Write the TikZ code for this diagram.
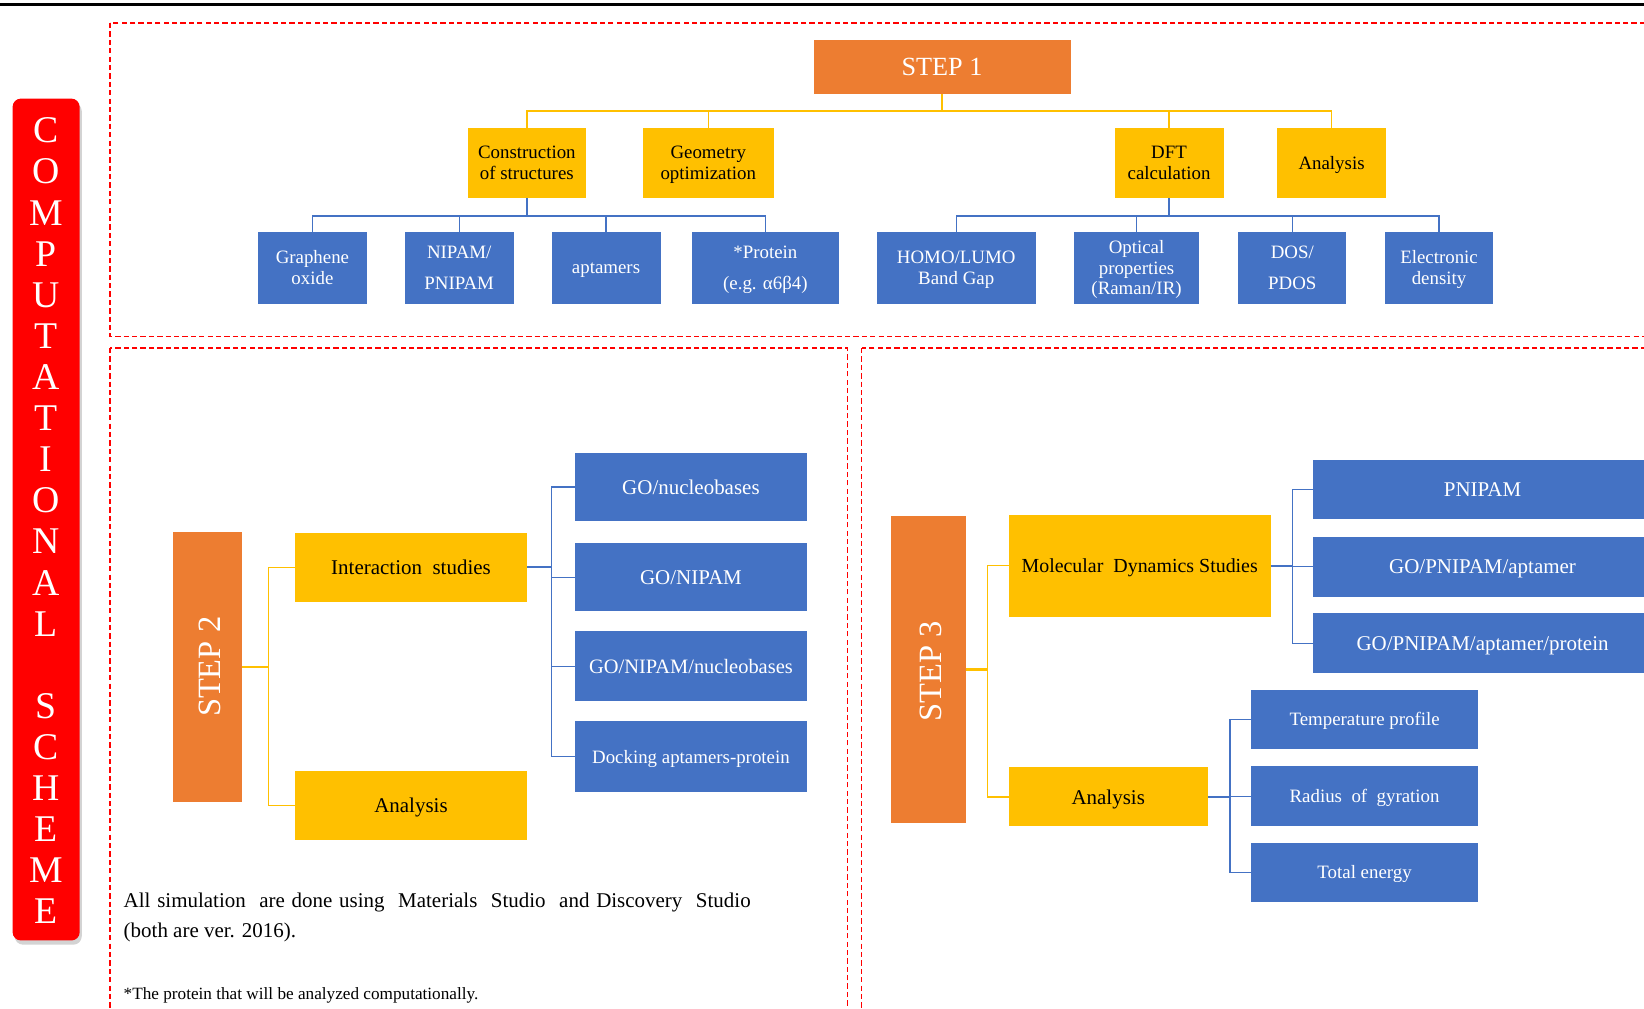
\documentclass[tikz,border=0pt]{standalone}
\usepackage{fontspec}
\setmainfont{Liberation Serif}
\usetikzlibrary{shadows,calc}
\definecolor{orng}{HTML}{ED7D31}
\definecolor{yell}{HTML}{FFC000}
\definecolor{blu}{HTML}{4472C4}
\newcommand\fs[2]{\fontsize{#1}{#2}\selectfont}
\begin{document}
\begin{tikzpicture}[x=1pt,y=-1pt,
  every node/.style={inner sep=0pt, outer sep=0pt, align=center},
  obox/.style={fill=orng, text=white},
  ybox/.style={fill=yell, text=black, text depth=0pt},
  bbox/.style={fill=blu, text=white, text depth=0pt},
  yline/.style={draw=yell, line width=1.3pt},
  bline/.style={draw=blu, line width=1.3pt},
  stem/.style={line width=2.2pt},
  frame/.style={draw=red, line width=1.2pt, dash pattern=on 5pt off 3pt},
  box/.style 2 args={minimum width=#1, minimum height=#2}]
\useasboundingbox (0,0) rectangle (1568,962);
\clip (0,0) rectangle (1568,962);

% rule across the top
\draw[line width=2.5pt] (0,4) -- (1568,4);

% dashed frames of the three steps
\draw[frame] (105,22) rectangle (1590,321);
\draw[frame] (105,332) rectangle (808,990);
\draw[frame] (822,332) rectangle (1590,990);

% vertical title bar
\node[fill=red, rounded corners=8pt, box={64}{803}, text=white,
      drop shadow={shadow xshift=2pt, shadow yshift=-4pt, opacity=0.35}]
  (bar) at (44,495.5) {};
\foreach \ch [count=\i from 0] in {C,O,M,P,U,T,A,T,I,O,N,A,L,{},S,C,H,E,M,E}
  \node[text=white, font=\fs{36}{36}] (bar\i) at (44,124.5+39.2*\i) {\ch};

% ---------------- STEP 1 ----------------
\node[obox, box={245}{52}, font=\fs{25}{28}] (s1) at (898.5,64) {STEP 1};

\node[ybox, box={113}{67}, font=\fs{18}{20}] (cons) at (502.5,155.5) {Construction\\of structures};
\node[ybox, box={125}{67}, font=\fs{18}{20}] (geo) at (675.5,155.5) {Geometry\\optimization};
\node[ybox, box={104}{67}, font=\fs{18}{20}] (dft) at (1115,155.5) {DFT\\calculation};
\node[ybox, box={104}{67}, font=\fs{18}{20}] (ana1) at (1270,155.5) {Analysis};

\node[bbox, box={104}{69}, font=\fs{18}{20}] (go) at (298,255.5) {Graphene\\oxide};
\node[bbox, box={104}{69}, font=\fs{18}{29}] (nip) at (438,255.5) {NIPAM/\\PNIPAM};
\node[bbox, box={104}{69}, font=\fs{18}{20}] (apt) at (578,255.5) {aptamers};
\node[bbox, box={140}{69}, font=\fs{18}{29}] (prot) at (730,255.5) {*Protein\\(e.g. α6β4)};
\node[bbox, box={152}{69}, font=\fs{18}{20}] (homo) at (912,255.5) {HOMO/LUMO\\Band Gap};
\node[bbox, box={120}{69}, font=\fs{18}{19.5}] (opt) at (1084,255.5) {Optical\\properties\\(Raman/IR)};
\node[bbox, box={103}{69}, font=\fs{18}{29}] (dos) at (1232.5,255.5) {DOS/\\PDOS};
\node[bbox, box={103}{69}, font=\fs{18}{20}] (ele) at (1372.5,255.5) {Electronic\\density};

% yellow tree below STEP 1
\coordinate (j1) at ($(s1.south)+(0,16)$);
\draw[yline, stem] (s1.south) -- (j1);
\draw[yline] (cons.north) -- (cons.north |- j1) -- (ana1.north |- j1) -- (ana1.north);
\draw[yline] (geo.north) -- (geo.north |- j1);
\draw[yline] (dft.north) -- (dft.north |- j1);

% blue tree below Construction of structures
\coordinate (j2) at ($(cons.south)+(0,17)$);
\draw[bline, stem] (cons.south) -- (j2);
\draw[bline] (go.north) -- (go.north |- j2) -- (prot.north |- j2) -- (prot.north);
\draw[bline] (nip.north) -- (nip.north |- j2);
\draw[bline] (apt.north) -- (apt.north |- j2);

% blue tree below DFT calculation
\coordinate (j3) at ($(dft.south)+(0,17)$);
\draw[bline, stem] (dft.south) -- (j3);
\draw[bline] (homo.north) -- (homo.north |- j3) -- (ele.north |- j3) -- (ele.north);
\draw[bline] (opt.north) -- (opt.north |- j3);
\draw[bline] (dos.north) -- (dos.north |- j3);

% ---------------- STEP 2 ----------------
\node[obox, box={66}{258}] (s2) at (198,636) {};
\node[text=white, rotate=90, font=\fs{31}{31}] (s2t) at (200,636) {STEP 2};

\node[ybox, box={222}{66}, font=\fs{20}{22}] (int) at (392,541) {Interaction\ \ studies};
\node[ybox, box={222}{66}, font=\fs{20}{22}] (an2) at (392,768) {Analysis};

\node[bbox, box={222}{65}, font=\fs{20}{22}] (gon) at (659,464.5) {GO/nucleobases};
\node[bbox, box={222}{65}, font=\fs{20}{22}] (gonip) at (659,550.5) {GO/NIPAM};
\node[bbox, box={222}{67}, font=\fs{19.5}{22}] (gonn) at (659,635.5) {GO/NIPAM/nucleobases};
\node[bbox, box={222}{67}, font=\fs{18}{22}] (dock) at (659,721.5) {Docking aptamers-protein};

\coordinate (k2) at ($(s2.east)+(25,0)$);
\draw[yline, stem] (s2.east) -- (k2);
\draw[yline] (int.west) -| (k2);
\draw[yline] (an2.west) -| (k2);

\coordinate (m2) at ($(int.east)+(23,0)$);
\draw[bline, stem] (int.east) -- (m2);
\draw[bline] (gon.west) -| (m2);
\draw[bline] (dock.west) -| (m2);
\draw[bline] (gonip.west) -- (gonip.west -| m2);
\draw[bline] (gonn.west) -- (gonn.west -| m2);

\node[anchor=north west, text width=598pt, align=justify, font=\fs{20}{28}] (note)
  at (118,852) {All simulation\ \ are done using\ \ Materials\ \ Studio\ \ and Discovery\ \ Studio (both are ver. 2016).};
\node[anchor=base west, font=\fs{16.4}{18}] (foot) at (118,953) {*The protein that will be analyzed computationally.};

% ---------------- STEP 3 ----------------
\node[obox, box={71}{293}] (s3) at (885.5,638.5) {};
\node[text=white, rotate=90, font=\fs{31}{31}] (s3t) at (887.5,640.5) {STEP 3};

\node[ybox, box={250}{97}, font=\fs{19}{22}] (md) at (1087,539.5) {Molecular\ \ Dynamics Studies};
\node[ybox, box={190}{56}, font=\fs{20}{22}] (an3) at (1057,760) {Analysis};

\node[bbox, box={324}{56}, font=\fs{20}{22}] (pn) at (1414,467) {PNIPAM};
\node[bbox, box={324}{57}, font=\fs{20}{22}] (gpa) at (1414,540.5) {GO/PNIPAM/aptamer};
\node[bbox, box={324}{57}, font=\fs{20}{22}] (gpap) at (1414,613.5) {GO/PNIPAM/aptamer/protein};

\node[bbox, box={217}{56}, font=\fs{18}{22}] (temp) at (1301.5,686) {Temperature profile};
\node[bbox, box={217}{57}, font=\fs{18}{22}] (rad) at (1301.5,759.5) {Radius\ \ of\ \ gyration};
\node[bbox, box={217}{56}, font=\fs{18}{22}] (tot) at (1301.5,832) {Total energy};

\coordinate (k3) at ($(s3.east)+(21,0)$);
\draw[yline, stem] (s3.east) -- (k3);
\draw[yline] (md.west) -| (k3);
\draw[yline] (an3.west) -| (k3);

\coordinate (m3) at ($(md.east)+(21,0)$);
\draw[bline, stem] (md.east) -- (m3);
\draw[bline] (pn.west) -| (m3);
\draw[bline] (gpap.west) -| (m3);
\draw[bline] (gpa.west) -- (gpa.west -| m3);

\coordinate (m4) at ($(an3.east)+(21,0)$);
\draw[bline, stem] (an3.east) -- (m4);
\draw[bline] (temp.west) -| (m4);
\draw[bline] (tot.west) -| (m4);
\draw[bline] (rad.west) -- (rad.west -| m4);
\end{tikzpicture}
\end{document}
